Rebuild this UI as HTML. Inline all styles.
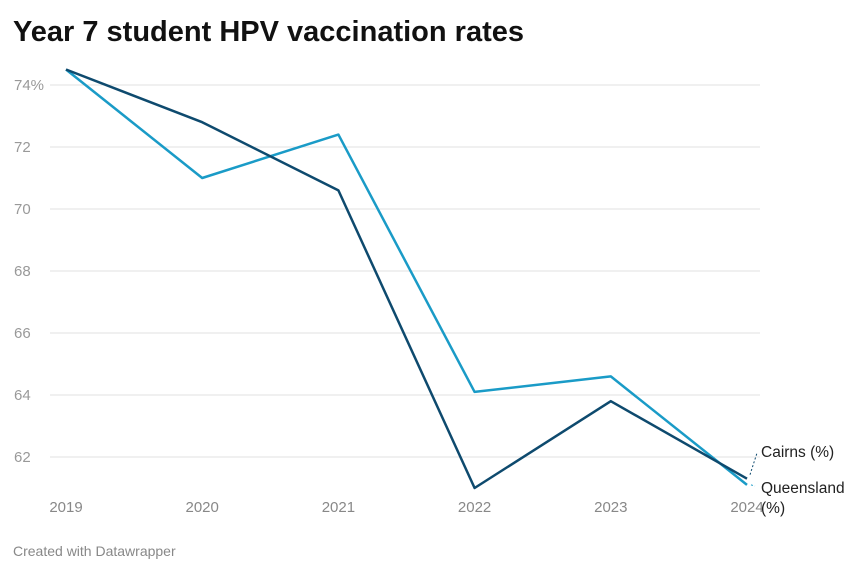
<!DOCTYPE html>
<html><head><meta charset="utf-8"><style>
body{margin:0;background:#fff;font-family:"Liberation Sans",sans-serif;}
svg text{font-family:"Liberation Sans",sans-serif;}
</style></head><body>
<svg id="chart" width="862" height="575" xmlns="http://www.w3.org/2000/svg">
<text x="13" y="41" font-size="29" font-weight="bold" fill="#111" textLength="511" lengthAdjust="spacingAndGlyphs">Year 7 student HPV vaccination rates</text>
<g id="grid"></g><g id="lines"></g>
<text x="13" y="556" font-size="14" fill="#888">Created with Datawrapper</text>
</svg>
<script>
const years = ['2019','2020','2021','2022','2023','2024'];
const cairns = [74.5, 72.8, 70.6, 61.0, 63.8, 61.3];
const queensland = [74.5, 71.0, 72.4, 64.1, 64.6, 61.1];
const yTicks = [74, 72, 70, 68, 66, 64, 62];
const yTickLabels = ['74%', '72', '70', '68', '66', '64', '62'];

const NS = 'http://www.w3.org/2000/svg';
const x = i => 66 + i * (747 - 66) / (years.length - 1);
const y = v => 85 + (74 - v) * 31;
function mk(tag, attrs, parent){const e=document.createElementNS(NS,tag);for(const k in attrs)e.setAttribute(k,attrs[k]);parent.appendChild(e);return e;}
const grid = document.getElementById('grid'), lines = document.getElementById('lines');
yTicks.forEach((t,i)=>{
  const l = mk('line',{x1:50,x2:760,y1:y(t),y2:y(t),stroke:'#e2e2e2','stroke-width':1},grid);
  
  
  const tx = mk('text',{x:14,y:y(t)+5,'font-size':15,fill:'#999'},grid);
  tx.textContent = yTickLabels[i];
  
  
});
years.forEach((yr,i)=>{
  const tx = mk('text',{x:x(i),y:512,'font-size':15,fill:'#888','text-anchor':'middle'},grid);
  tx.textContent = yr;
  
  
});
function series(vals,color,name){
  const p = mk('polyline',{points:vals.map((v,i)=>x(i)+','+y(v)).join(' '),fill:'none',stroke:color,'stroke-width':2.5,'stroke-linejoin':'round'},lines);
  
  
}
series(queensland,'#1a9bc7','queensland-line');
series(cairns,'#0e4a6e','cairns-line');
const last = years.length-1;
const c1 = mk('line',{x1:x(last)+3,y1:y(cairns[last])-4,x2:757,y2:453,stroke:'#0e4a6e','stroke-width':1,'stroke-dasharray':'2,2'},lines);


const c2 = mk('line',{x1:x(last)+4,y1:y(queensland[last]),x2:755,y2:486,stroke:'#1a9bc7','stroke-width':1,'stroke-dasharray':'2,2'},lines);


const l1 = mk('text',{x:761,y:457,'font-size':15.5,fill:'#222'},lines);
l1.textContent='Cairns (%)';


const l2 = mk('text',{x:761,y:493,'font-size':15.5,fill:'#222'},lines);
l2.textContent='Queensland';


const l3 = mk('text',{x:761,y:513,'font-size':15.5,fill:'#222'},lines);
l3.textContent='(%)';


</script>
</body></html>
